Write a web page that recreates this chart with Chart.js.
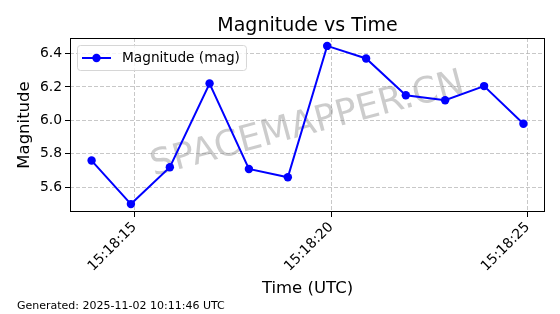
<!DOCTYPE html>
<html>
<head>
<meta charset="utf-8">
<script src="https://cdn.jsdelivr.net/npm/chart.js@4"></script>
<style>
  html, body { margin: 0; padding: 0; background: #fff; }
  canvas { display: block; }
</style>
</head>
<body>
<canvas id="magChart" width="560" height="314"></canvas>
<script>
// seconds after 15:18:00 UTC
const timeSeconds = [13.91, 14.91, 15.90, 16.91, 17.91, 18.90, 19.90, 20.89, 21.90, 22.90, 23.89, 24.89];
const magnitudes = [5.76, 5.50, 5.72, 6.22, 5.71, 5.66, 6.445, 6.37, 6.15, 6.12, 6.205, 5.98];
const xTicks = [15, 20, 25];
const xTickLabels = ['15:18:15', '15:18:20', '15:18:25'];
const yTicks = [5.6, 5.8, 6.0, 6.2, 6.4];
const seriesLabel = 'Magnitude (mag)';
const footerText = 'Generated: 2025-11-02 10:11:46 UTC';

const FONT = "'DejaVu Sans', sans-serif";

// matplotlib-like 5% margins
const xLo = Math.min(...timeSeconds), xHi = Math.max(...timeSeconds);
const yLo = Math.min(...magnitudes), yHi = Math.max(...magnitudes);
const xPad = (xHi - xLo) * 0.05, yPad = (yHi - yLo) * 0.05;

const decorPlugin = {
  id: 'decor',
  beforeDatasetsDraw(chart) {
    const { ctx, chartArea: ca } = chart;
    ctx.save();
    ctx.translate((ca.left + ca.right) / 2, (ca.top + ca.bottom) / 2);
    ctx.rotate(-15 * Math.PI / 180);
    ctx.font = '36px ' + FONT;
    ctx.fillStyle = 'rgba(128,128,128,0.4)';
    ctx.textAlign = 'center';
    ctx.textBaseline = 'middle';
    ctx.fillText('SPACEMAPPER.CN', 0, 0);
    ctx.restore();
  },
  afterDraw(chart) {
    const { ctx, chartArea: ca } = chart;
    ctx.save();
    // spines
    ctx.strokeStyle = '#000';
    ctx.lineWidth = 1;
    ctx.strokeRect(ca.left + 0.5, ca.top + 0.5, ca.right - ca.left - 1, ca.bottom - ca.top - 1);

    // legend
    ctx.font = '13.7px ' + FONT;
    const tw = ctx.measureText(seriesLabel).width;
    const x0 = ca.left + 7, y0 = ca.top + 7;
    const w = 5 + 29 + 11 + tw + 6, h = 25;
    ctx.beginPath();
    ctx.roundRect(x0 + 0.5, y0 + 0.5, w, h, 3);
    ctx.fillStyle = 'rgba(255,255,255,0.8)';
    ctx.fill();
    ctx.strokeStyle = '#d6d6d6';
    ctx.stroke();
    const my = y0 + h / 2 + 0.5;
    ctx.strokeStyle = '#0000ff';
    ctx.lineWidth = 2;
    ctx.beginPath();
    ctx.moveTo(x0 + 5, my);
    ctx.lineTo(x0 + 34, my);
    ctx.stroke();
    ctx.fillStyle = '#0000ff';
    ctx.beginPath();
    ctx.arc(x0 + 19.5, my, 4.2, 0, Math.PI * 2);
    ctx.fill();
    ctx.fillStyle = '#000';
    ctx.textBaseline = 'middle';
    ctx.fillText(seriesLabel, x0 + 45, my);

    // title
    ctx.font = '19px ' + FONT;
    ctx.textAlign = 'center';
    ctx.textBaseline = 'alphabetic';
    ctx.fillText('Magnitude vs Time', (ca.left + ca.right) / 2, 31);

    // footer
    ctx.font = '11px ' + FONT;
    ctx.textAlign = 'left';
    ctx.fillText(footerText, 17, 309);
    ctx.restore();
  }
};

const gridStyle = {
  color: 'rgba(176,176,176,0.7)',
  lineWidth: 1,
  tickColor: '#000',
  tickLength: 5,
  tickWidth: 1
};

new Chart(document.getElementById('magChart'), {
  type: 'line',
  data: {
    datasets: [{
      label: seriesLabel,
      data: timeSeconds.map((t, i) => ({ x: t, y: magnitudes[i] })),
      borderColor: '#0000ff',
      backgroundColor: '#0000ff',
      borderWidth: 2,
      pointRadius: 4.2,
      pointHoverRadius: 4.2,
      pointBorderWidth: 0,
      tension: 0,
      fill: false
    }]
  },
  options: {
    responsive: false,
    devicePixelRatio: 1,
    animation: false,
    layout: { padding: { left: 0, top: 38, right: 15, bottom: 0 } },
    plugins: {
      legend: { display: false },
      title: { display: false },
      tooltip: { enabled: false }
    },
    scales: {
      x: {
        type: 'linear',
        min: xLo - xPad,
        max: xHi + xPad,
        afterBuildTicks: s => { s.ticks = xTicks.map(v => ({ value: v })); },
        afterFit: s => { s.height = 102; },
        border: { display: false, dash: [4, 2] },
        grid: gridStyle,
        ticks: {
          autoSkip: false,
          minRotation: 45,
          maxRotation: 45,
          padding: 2,
          color: '#000',
          font: { family: FONT, size: 13.9 },
          callback: v => xTickLabels[xTicks.indexOf(v)]
        },
        title: {
          display: true,
          text: 'Time (UTC)',
          color: '#000',
          font: { family: FONT, size: 16.5 },
          padding: { top: 0, bottom: 15 }
        }
      },
      y: {
        min: yLo - yPad,
        max: yHi + yPad,
        afterBuildTicks: s => { s.ticks = yTicks.map(v => ({ value: v })); },
        afterFit: s => { s.width = 70; },
        border: { display: false, dash: [4, 2] },
        grid: gridStyle,
        ticks: {
          padding: 3,
          color: '#000',
          font: { family: FONT, size: 13.9 },
          callback: v => v.toFixed(1)
        },
        title: {
          display: true,
          text: 'Magnitude',
          color: '#000',
          font: { family: FONT, size: 16.5 },
          padding: { top: 15, bottom: 0 }
        }
      }
    }
  },
  plugins: [decorPlugin]
});
</script>
</body>
</html>
